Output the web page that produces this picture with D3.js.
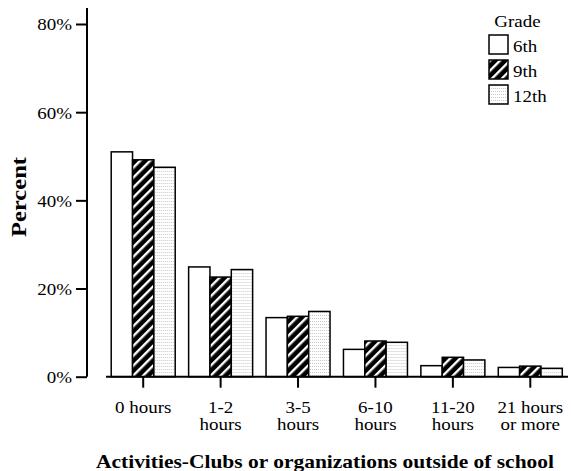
<!DOCTYPE html>
<html>
<head>
<meta charset="utf-8">
<script src="https://cdn.jsdelivr.net/npm/d3@7"></script>
<style>
  body { margin: 0; background: #fff; }
  text { font-family: "Liberation Serif", "Times New Roman", serif; fill: #000; }
</style>
</head>
<body>
<div id="chartDiv"></div>
<script>
const categories = ['0 hours', '1-2|hours', '3-5|hours', '6-10|hours', '11-20|hours', '21 hours|or more'];
const grades = ['6th', '9th', '12th'];
const grade6 = [51.0, 24.9, 13.4, 6.2, 2.5, 2.1];
const grade9 = [49.2, 22.6, 13.7, 8.1, 4.4, 2.4];
const grade12 = [47.5, 24.3, 14.8, 7.8, 3.8, 1.9];
const yTicks = [0, 20, 40, 60, 80];

const series = [grade6, grade9, grade12];
const fills = ['#fff', 'url(#hatch)', 'url(#dots)'];

const width = 571, height = 471;
const fontSize = 16.5;
const stretch = 1.15; // the source text is a little wider than Times

const svg = d3.select('#chartDiv').append('svg')
    .attr('width', width)
    .attr('height', height);

// patterns
const defs = svg.append('defs');
const hatch = defs.append('pattern')
    .attr('id', 'hatch')
    .attr('patternUnits', 'userSpaceOnUse')
    .attr('width', 7).attr('height', 7)
    .attr('patternTransform', 'rotate(45)');
hatch.append('rect').attr('width', 7).attr('height', 7).attr('fill', '#000');
hatch.append('rect').attr('x', 0).attr('width', 2.4).attr('height', 7).attr('fill', '#fff');

const dots = defs.append('pattern')
    .attr('id', 'dots')
    .attr('patternUnits', 'userSpaceOnUse')
    .attr('width', 2).attr('height', 3);
dots.append('rect').attr('width', 2).attr('height', 3).attr('fill', '#fff');
dots.append('rect').attr('width', 1).attr('height', 1).attr('fill', '#c8c8c8');

const yScale = d3.scaleLinear().domain([0, 80]).range([376.7, 24]);
const xScale = d3.scaleBand().domain(categories).range([104.5, 569]).padding(0);
const inner = d3.scaleBand().domain(grades).range([0, 64]);

// y axis
const yAxis = svg.append('g')
    .attr('transform', 'translate(87,0)')
    .call(d3.axisLeft(yScale).tickValues(yTicks).tickSize(11).tickPadding(4)
        .tickFormat(d => d + '%'));
yAxis.select('.domain').attr('d', 'M0,' + 8 + 'V' + yScale(0));
yAxis.selectAll('line, path').attr('stroke', '#000').attr('stroke-width', 2);
yAxis.selectAll('text')
    .attr('font-size', fontSize)
    .attr('dy', '0.36em')
    .attr('x', -15 / stretch)
    .attr('transform', 'scale(' + stretch + ',1)');

// bars
const groups = svg.append('g').selectAll('g')
    .data(categories)
    .join('g')
    .attr('transform', d => 'translate(' + (xScale(d) + xScale.bandwidth() / 2 - 32) + ',0)');

groups.selectAll('rect')
    .data((d, i) => grades.map((g, j) => ({ grade: g, value: series[j][i], fill: fills[j] })))
    .join('rect')
    .attr('x', d => inner(d.grade))
    .attr('width', inner.bandwidth())
    .attr('y', d => yScale(d.value))
    .attr('height', d => yScale(0) - yScale(d.value))
    .attr('fill', d => d.fill)
    .attr('stroke', '#000')
    .attr('stroke-width', 1.5);

// x axis
const xAxis = svg.append('g')
    .attr('transform', 'translate(0,' + yScale(0) + ')')
    .call(d3.axisBottom(xScale).tickSize(11).tickFormat(''));
xAxis.select('.domain').attr('d', 'M106,0H568');
xAxis.selectAll('line, path').attr('stroke', '#000').attr('stroke-width', 2);

const labels = svg.append('g').selectAll('text')
    .data(categories)
    .join('text')
    .attr('text-anchor', 'middle')
    .attr('font-size', fontSize)
    .attr('transform', d => 'translate(' + (xScale(d) + xScale.bandwidth() / 2) + ',413) scale(' + stretch + ',1)');
labels.selectAll('tspan')
    .data(d => d.split('|'))
    .join('tspan')
    .attr('x', 0)
    .attr('y', (d, i) => i * 17.5)
    .text(d => d);

// axis titles
svg.append('text')
    .attr('x', 325).attr('y', 468)
    .attr('text-anchor', 'middle')
    .attr('font-size', 19.5)
    .attr('font-weight', 'bold')
    .attr('textLength', 458)
    .attr('lengthAdjust', 'spacingAndGlyphs')
    .text('Activities-Clubs or organizations outside of school');

svg.append('text')
    .attr('transform', 'translate(26,197) rotate(-90)')
    .attr('text-anchor', 'middle')
    .attr('font-size', 20.5)
    .attr('font-weight', 'bold')
    .attr('textLength', 80)
    .attr('lengthAdjust', 'spacingAndGlyphs')
    .text('Percent');

// legend
const legend = svg.append('g').attr('transform', 'translate(489,35)');
legend.append('text')
    .attr('transform', 'translate(28.5,-8) scale(' + stretch + ',1)')
    .attr('text-anchor', 'middle')
    .attr('font-size', fontSize)
    .text('Grade');
const items = legend.selectAll('g.item')
    .data(grades)
    .join('g')
    .attr('class', 'item')
    .attr('transform', (d, i) => 'translate(0,' + i * 25 + ')');
items.append('rect')
    .attr('width', 19).attr('height', 19)
    .attr('fill', (d, i) => fills[i])
    .attr('stroke', '#000')
    .attr('stroke-width', 1.5);
items.append('text')
    .attr('transform', 'translate(24,16.5) scale(' + stretch + ',1)')
    .attr('font-size', fontSize)
    .text(d => d);
</script>
</body>
</html>
